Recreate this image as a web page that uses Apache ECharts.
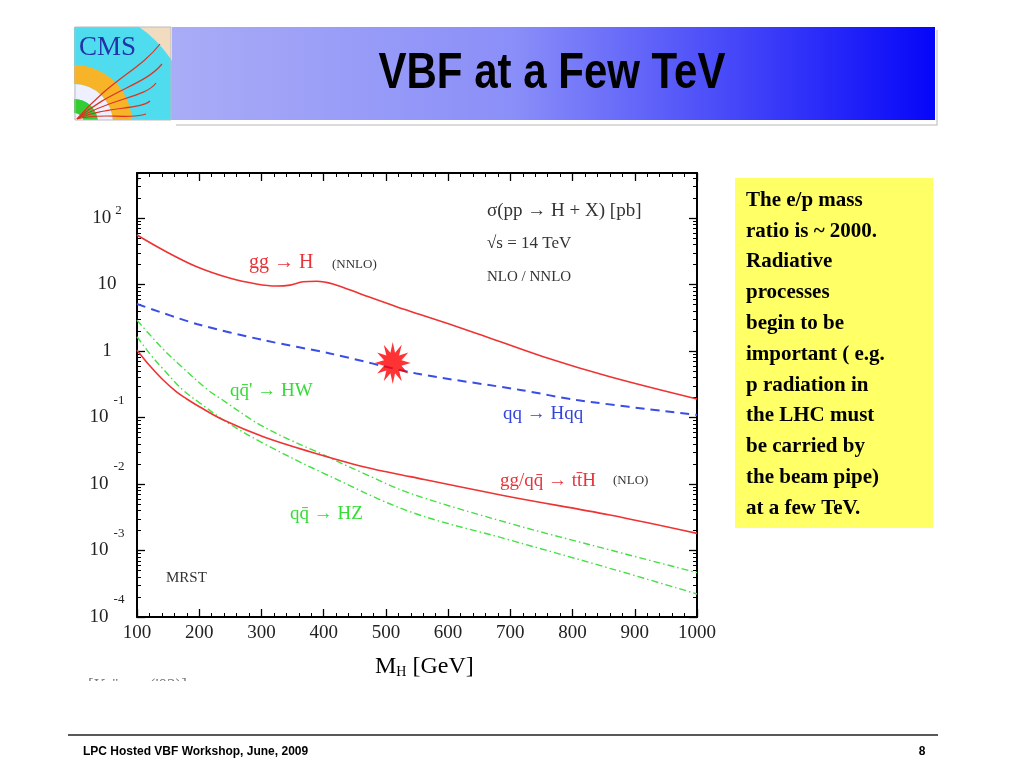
<!DOCTYPE html>
<html>
<head>
<meta charset="utf-8">
<script src="https://cdn.jsdelivr.net/npm/echarts@6/dist/echarts.min.js"></script>
<style>
html,body{margin:0;padding:0;background:#fff;}
#chart{width:1024px;height:768px;}
</style>
</head>
<body>
<div id="chart"></div>
<script>
// ---- data (Higgs mass in GeV, cross section in pb) ----
const massGGH  = [100, 142, 196, 250, 292, 324, 346, 367, 389, 415, 464, 517, 555, 646, 753, 860, 1000];
const sigmaGGH = [55.5, 33, 18.5, 12.4, 10.2, 9.5, 9.8, 11.0, 11.2, 10.2, 6.95, 4.64, 3.55, 1.84, 0.82, 0.41, 0.19];

const massQQH  = [100, 196, 303, 410, 549, 716, 807, 1000];
const sigmaQQH = [5.1, 2.55, 1.46, 0.92, 0.46, 0.26, 0.183, 0.109];

const massHW   = [100, 121, 145, 174, 214, 233, 303, 400, 464, 539, 699, 860, 1000];
const sigmaHW  = [2.9, 1.74, 1.0, 0.555, 0.259, 0.196, 0.0727, 0.0273, 0.0145, 0.00724, 0.00256, 0.00102, 0.000464];

const massHZ   = [100, 121, 142, 172, 201, 244, 303, 400, 539, 699, 860, 1000];
const sigmaHZ  = [1.64, 0.90, 0.537, 0.269, 0.165, 0.0855, 0.0409, 0.0145, 0.00383, 0.00144, 0.00054, 0.000222];

const massTTH  = [100, 121, 142, 164, 180, 201, 239, 303, 378, 464, 539, 699, 860, 1000];
const sigmaTTH = [1.03, 0.594, 0.366, 0.241, 0.19, 0.144, 0.0917, 0.0514, 0.0306, 0.0182, 0.0129, 0.00644, 0.00342, 0.00181];

const starPoint = [511, 0.66];

const xTicks = [100, 200, 300, 400, 500, 600, 700, 800, 900, 1000];
const yDecades = [-4, -3, -2, -1, 0, 1, 2];
const yMax = 2.677;

const boxLines = [
  'The e/p mass', 'ratio is ~ 2000.', 'Radiative', 'processes', 'begin to be',
  'important ( e.g.', 'p radiation in', 'the LHC must', 'be carried by',
  'the beam pipe)', 'at a few TeV.'
];

// ---- helpers ----
const toLog = (ms, ss) => ms.map((m, i) => [m, Math.log10(ss[i])]);
const yMinor = [];
yDecades.forEach(n => { for (let k = 2; k <= 9; k++) { const v = n + Math.log10(k); if (v < yMax) yMinor.push(v); } });

function starPath(n, r1, r2) {
  let d = '';
  for (let i = 0; i < 2 * n; i++) {
    const a = -Math.PI / 2 + i * Math.PI / n;
    const r = i % 2 ? r2 : r1;
    d += (i ? 'L' : 'M') + (r * Math.cos(a)).toFixed(3) + ' ' + (r * Math.sin(a)).toFixed(3);
  }
  return 'path://' + d + 'Z';
}

const SERIF = 'Liberation Serif';
const SANS = 'Liberation Sans';
const lineBlack = {color: '#000', width: 2};

const majorTickX = {show: true, inside: true, length: 8, lineStyle: {color: '#000', width: 1.3}};
const minorTickX = {show: true, splitNumber: 5, length: 4, lineStyle: {color: '#000', width: 1}};

function yAxisDef(pos, minor, labels) {
  return {
    type: 'value', min: -4, max: yMax, position: pos,
    axisLine: {show: !minor, onZero: false, lineStyle: lineBlack},
    axisTick: {show: true, inside: true, length: minor ? 4 : 8,
               customValues: minor ? yMinor : yDecades,
               lineStyle: {color: '#000', width: minor ? 1 : 1.3}},
    splitLine: {show: false},
    axisLabel: labels ? {
      show: true, customValues: yDecades, align: 'center', margin: 30,
      formatter: v => {
        const n = Math.round(v);
        if (n === 0) return '{n|1}';
        if (n === 1) return '{n|10}';
        if (n > 1) return '{p|10}{ps|' + n + '}';
        return '{m|10}{ms|' + n + '}';
      },
      rich: {
        n: {fontFamily: SERIF, fontSize: 19, color: '#222'},
        p: {fontFamily: SERIF, fontSize: 19, color: '#222', padding: [4, 0, 4, 0]},
        ps: {fontFamily: SERIF, fontSize: 13, color: '#222', verticalAlign: 'top', padding: [0, 0, 0, 4]},
        m: {fontFamily: SERIF, fontSize: 19, color: '#222', padding: [14, 0, 14, 0]},
        ms: {fontFamily: SERIF, fontSize: 13, color: '#222', verticalAlign: 'top', padding: [0, 0, 0, 5]}
      }
    } : {show: false}
  };
}

const chart = echarts.init(document.getElementById('chart'));

const txt = (x, y, text, size, color, extra, z) => ({
  type: 'text', x: x, y: y, silent: true, z: z || 10,
  style: Object.assign({text: text, fontFamily: SERIF, fontSize: size, fill: color, verticalAlign: 'middle', align: 'left'}, extra || {})
});

const redArc = (x2, y2, c1x, c1y, c2x, c2y) => ({type: 'bezierCurve',
  shape: {x1: 77, y1: 119, x2: x2, y2: y2, cpx1: c1x, cpy1: c1y, cpx2: c2x, cpy2: c2y},
  style: {stroke: '#dd3322', lineWidth: 1.2, fill: null}, z: 4});

const graphics = [
  // CMS logo
  {type: 'rect', shape: {x: 75, y: 27, width: 96, height: 93}, style: {fill: '#f2dcc0'}, z: 1},
  {type: 'sector', shape: {cx: 74, cy: 123, r: 116, r0: 0, startAngle: -Math.PI / 2, endAngle: 0}, style: {fill: '#4fdcee'}, z: 2},
  {type: 'sector', shape: {cx: 74, cy: 123, r: 58, r0: 39, startAngle: -Math.PI / 2, endAngle: 0}, style: {fill: '#f8b428'}, z: 3},
  {type: 'sector', shape: {cx: 74, cy: 123, r: 39, r0: 24, startAngle: -Math.PI / 2, endAngle: 0}, style: {fill: '#eef0ff'}, z: 3},
  {type: 'sector', shape: {cx: 74, cy: 123, r: 24, r0: 0, startAngle: -Math.PI / 2, endAngle: 0}, style: {fill: '#33cc33'}, z: 3},
  {type: 'sector', shape: {cx: 74, cy: 123, r: 10, r0: 0, startAngle: -Math.PI / 2, endAngle: 0}, style: {fill: '#eef0ff'}, z: 3},
  redArc(160, 44, 110, 80, 140, 70),
  redArc(162, 64, 110, 90, 145, 85),
  redArc(156, 83, 110, 98, 145, 98),
  redArc(150, 101, 105, 106, 140, 110),
  redArc(146, 114, 100, 112, 130, 120),
  txt(79, 48, 'CMS', 27, '#2233aa', {}, 6),
  {type: 'rect', shape: {x: 60, y: 0, width: 130, height: 27}, style: {fill: '#fff'}, z: 5},
  {type: 'rect', shape: {x: 60, y: 120, width: 130, height: 8}, style: {fill: '#fff'}, z: 5},
  {type: 'rect', shape: {x: 75, y: 27, width: 96, height: 93}, style: {fill: null, stroke: '#bbb', lineWidth: 1}, z: 6},
  // title bar
  {type: 'rect', shape: {x: 172, y: 27, width: 763, height: 93},
   style: {fill: {type: 'linear', x: 0, y: 0, x2: 1, y2: 0,
     colorStops: [{offset: 0, color: '#a9acf6'}, {offset: 0.45, color: '#8a8ef8'}, {offset: 1, color: '#0606f8'}]}}, z: 7},
  {type: 'polyline', shape: {points: [[176, 125], [937, 125], [937, 30]]}, style: {stroke: '#cfcfcf', lineWidth: 1.5, fill: null}, z: 7},
  {type: 'text', x: 552, y: 74, scaleX: 0.84, z: 8, style: {text: 'VBF at a Few TeV', fontFamily: SANS, fontWeight: 'bold', fontSize: 50,
     fill: '#000', align: 'center', verticalAlign: 'middle', shadowColor: 'rgba(255,255,255,0.85)', shadowOffsetX: 3, shadowOffsetY: 3, shadowBlur: 0}},
  // yellow box
  {type: 'rect', shape: {x: 735, y: 178, width: 198, height: 350}, style: {fill: '#ffff66'}, z: 1},
  {type: 'text', x: 746, y: 185, z: 2, style: {text: boxLines.join('\n'), fontFamily: SERIF, fontWeight: 'bold', fontSize: 21,
     lineHeight: 30.8, fill: '#000', align: 'left', verticalAlign: 'top'}},
  // footer
  {type: 'line', shape: {x1: 68, y1: 735, x2: 938, y2: 735}, style: {stroke: '#222', lineWidth: 1.5}},
  txt(83, 752, 'LPC Hosted VBF Workshop, June, 2009', 12, '#000', {fontFamily: SANS, fontWeight: 'bold'}),
  txt(922, 752, '8', 12, '#000', {fontFamily: SANS, fontWeight: 'bold', align: 'center'}),
  // plot annotations
  txt(487, 211, 'σ(pp → H + X) [pb]', 19, '#333'),
  txt(487, 244, '√s = 14 TeV', 17, '#333'),
  txt(487, 277, 'NLO / NNLO', 15, '#333'),
  txt(249, 263, 'gg → H', 20, '#e8333a'),
  txt(332, 265, '(NNLO)', 13, '#333'),
  txt(230, 391, "qq\u0304' → HW", 19, '#33dd33'),
  txt(503, 414, 'qq → Hqq', 19, '#3344dd'),
  txt(500, 481, 'gg/qq\u0304 → tt\u0304H', 19, '#e8333a'),
  txt(613, 481, '(NLO)', 13, '#333'),
  txt(290, 514, 'qq\u0304 → HZ', 19, '#33dd33'),
  txt(166, 578, 'MRST', 15, '#333'),
  {type: 'text', x: 375, y: 667, z: 10, style: {text: '{a|M}{s|H}{a| [GeV]}', verticalAlign: 'middle', align: 'left',
     rich: {a: {fontFamily: SERIF, fontSize: 24, color: '#222'},
            s: {fontFamily: SERIF, fontSize: 14, color: '#222', verticalAlign: 'bottom'}}}},
  txt(88, 686, "[Krämer ('02)]", 17, '#777', {}, 2),
  {type: 'rect', shape: {x: 80, y: 681, width: 150, height: 20}, style: {fill: '#fff'}, z: 3}
];

const lineSeries = (name, data, color, width, type, smooth) => ({
  name: name, type: 'line', data: data, xAxisIndex: 0, yAxisIndex: 0,
  showSymbol: false, smooth: smooth, animation: false, silent: true,
  lineStyle: {color: color, width: width, type: type}
});

chart.setOption({
  animation: false,
  backgroundColor: '#fff',
  grid: {left: 137, top: 173, width: 560, height: 444, containLabel: false},
  xAxis: [
    {type: 'value', min: 100, max: 1000, interval: 100, position: 'bottom',
     axisLine: {onZero: false, lineStyle: lineBlack}, axisTick: majorTickX, minorTick: minorTickX,
     splitLine: {show: false}, minorSplitLine: {show: false},
     axisLabel: {fontFamily: SERIF, fontSize: 19, color: '#222', margin: 7, customValues: xTicks, formatter: v => String(v)}},
    {type: 'value', min: 100, max: 1000, interval: 100, position: 'top',
     axisLine: {onZero: false, lineStyle: lineBlack}, axisTick: majorTickX, minorTick: minorTickX,
     splitLine: {show: false}, minorSplitLine: {show: false}, axisLabel: {show: false}}
  ],
  yAxis: [
    yAxisDef('left', false, true),
    yAxisDef('left', true, false),
    yAxisDef('right', false, false),
    yAxisDef('right', true, false)
  ],
  graphic: graphics,
  series: [
    lineSeries('gg → H', toLog(massGGH, sigmaGGH), '#ee3333', 1.6, 'solid', 0.35),
    lineSeries('qq → Hqq', toLog(massQQH, sigmaQQH), '#3a4de6', 2, [9, 6], 0.3),
    lineSeries("qq̄' → HW", toLog(massHW, sigmaHW), '#44e044', 1.4, [7, 3, 1.5, 3], 0.35),
    lineSeries('qq̄ → HZ', toLog(massHZ, sigmaHZ), '#44e044', 1.4, [7, 3, 1.5, 3], 0.35),
    lineSeries('gg/qq̄ → tt̄H', toLog(massTTH, sigmaTTH), '#ee3333', 1.6, 'solid', 0.35),
    {type: 'scatter', xAxisIndex: 0, yAxisIndex: 0, silent: true, animation: false,
     data: [[starPoint[0], Math.log10(starPoint[1])]],
     symbol: starPath(12, 1, 0.5), symbolSize: [36, 42], itemStyle: {color: '#ff0000'}, z: 5}
  ]
});
</script>
</body>
</html>
